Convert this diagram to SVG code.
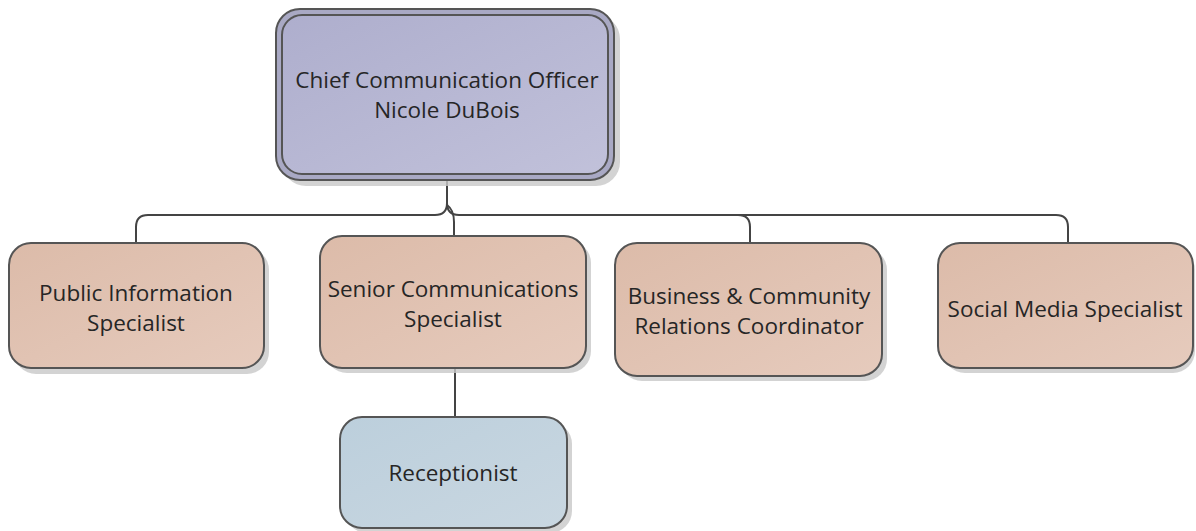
<svg xmlns="http://www.w3.org/2000/svg" width="1196" height="531" viewBox="0 0 1196 531">
<style>
.shadow{fill:#c8c8c8;opacity:0.8}
.box{stroke:#555;stroke-width:2}
.peach{fill:url(#gPeach)}
.lav{fill:url(#gLav)}
.blue{fill:url(#gBlue)}
.t{font-family:"Open Sans","Noto Sans",sans-serif;font-size:22.5px;fill:#262626;text-anchor:middle}
.conn{fill:none;stroke:#444;stroke-width:2}
</style>
<defs>
<linearGradient id="gPeach" x1="0" y1="0" x2="1" y2="1">
<stop offset="0" stop-color="#dcbba9"/><stop offset="1" stop-color="#e6cbbd"/>
</linearGradient>
<linearGradient id="gLav" x1="0" y1="0" x2="1" y2="1">
<stop offset="0" stop-color="#aeaecd"/><stop offset="1" stop-color="#c1c1da"/>
</linearGradient>
<linearGradient id="gBlue" x1="0" y1="0" x2="1" y2="1">
<stop offset="0" stop-color="#bccfdc"/><stop offset="1" stop-color="#c9d7e1"/>
</linearGradient>
</defs>
<g id="connectors">
<path class="conn" d="M447,180 V203 Q447,215 435,215 H148 Q136,215 136,227 V243"/>
<path class="conn" d="M447,180 V203 Q447,215 459,215 H738 Q750,215 750,227 V243"/>
<path class="conn" d="M738,215 H1056 Q1068,215 1068,227 V243"/>
<path class="conn" d="M447,205 Q454,210 454,222 V236"/>
<path class="conn" d="M455,368 V417"/>
</g>
<g id="n-cco">
<rect class="shadow" x="282" y="15" width="338" height="171" rx="24"/>
<rect x="276" y="9" width="338" height="171" rx="24" fill="#a9a9c4" stroke="#555" stroke-width="2"/>
<rect class="box lav" x="282" y="15" width="326" height="159" rx="20"/>
<text class="t" x="447" y="88">Chief Communication Officer</text>
<text class="t" x="447" y="118">Nicole DuBois</text>
</g>
<g id="n-pis">
<rect class="shadow" x="14" y="248" width="255" height="126" rx="22"/>
<rect class="box peach" x="9" y="243" width="255" height="125" rx="22"/>
<text class="t" x="136" y="301">Public Information</text>
<text class="t" x="136" y="331">Specialist</text>
</g>
<g id="n-scs">
<rect class="shadow" x="325" y="241" width="266" height="132" rx="22"/>
<rect class="box peach" x="320" y="236" width="266" height="132" rx="22"/>
<text class="t" x="453" y="297">Senior Communications</text>
<text class="t" x="453" y="327">Specialist</text>
</g>
<g id="n-bcrc">
<rect class="shadow" x="620" y="248" width="267" height="133" rx="22"/>
<rect class="box peach" x="615" y="243" width="267" height="133" rx="22"/>
<text class="t" x="749" y="304">Business &amp; Community</text>
<text class="t" x="749" y="334">Relations Coordinator</text>
</g>
<g id="n-sms">
<rect class="shadow" x="943" y="248" width="252" height="125" rx="22"/>
<rect class="box peach" x="938" y="243" width="255" height="125" rx="22"/>
<text class="t" x="1065" y="317">Social Media Specialist</text>
</g>
<g id="n-rec">
<rect class="shadow" x="345" y="422" width="227" height="111" rx="22"/>
<rect class="box blue" x="340" y="417" width="227" height="111" rx="22"/>
<text class="t" x="453" y="481">Receptionist</text>
</g>
</svg>
